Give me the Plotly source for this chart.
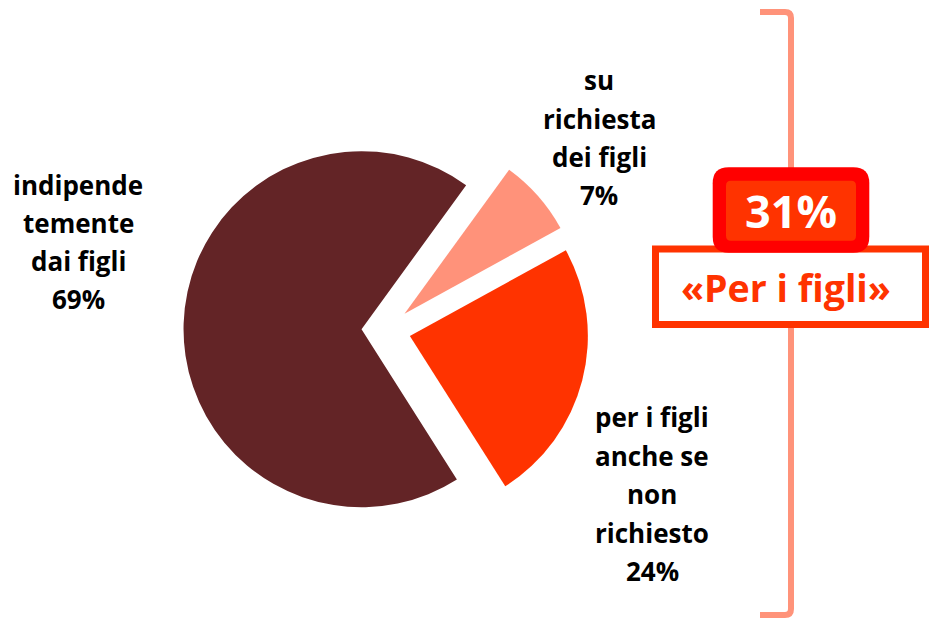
import plotly.graph_objects as go

W, H = 933, 620

# ---- data ----
categories = ["su richiesta dei figli", "per i figli anche se non richiesto", "indipendentemente dai figli"]
values = [7, 24, 69]
label_lines = [
    ["su", "richiesta", "dei figli"],
    ["per i figli", "anche se", "non", "richiesto"],
    ["indipende", "temente", "dai figli"],
]
slice_colors = ["#FF927A", "#FF3300", "#632426"]
total_label = "31%"
group_label = "«Per i figli»"

FONT = "Open Sans"
ZWNJ = "\u200c"

def nolig(s):
    return s.replace("fi", "f" + ZWNJ + "i")

def px(x):
    return x / W

def py(y):
    return 1 - y / H

fig = go.Figure(
    go.Pie(
        labels=categories,
        values=values,
        sort=False,
        direction="clockwise",
        rotation=36,
        pull=[0.138, 0.138, 0.138],
        marker=dict(colors=slice_colors, line=dict(width=0)),
        textinfo="none",
        hoverinfo="label+percent",
        domain=dict(x=[0.1967, 0.6309], y=[0.1411, 0.7945]),
        showlegend=False,
    )
)

annotations = []

# label positions (pixel centre x, baselines)
label_pos = [
    (599, [90, 129, 167, 205]),
    (652, [427, 466, 504, 543, 581]),
    (78, [195, 233, 271, 309]),
]
LS = 26
for lines, v, (cx, bases) in zip(label_lines, values, label_pos):
    texts = lines + [f"{v}%"]
    for t, b in zip(texts, bases):
        annotations.append(dict(
            x=px(cx), y=py(b - 0.388 * LS), xref="paper", yref="paper",
            text=f"<b>{nolig(t)}</b>", showarrow=False, xanchor="center", yanchor="middle",
            font=dict(family=FONT, size=LS, color="black"),
        ))

def rrect(x0, y0, x1, y1, r):
    return (f"M {px(x0 + r)},{py(y0)} L {px(x1 - r)},{py(y0)} Q {px(x1)},{py(y0)} {px(x1)},{py(y0 + r)} "
            f"L {px(x1)},{py(y1 - r)} Q {px(x1)},{py(y1)} {px(x1 - r)},{py(y1)} "
            f"L {px(x0 + r)},{py(y1)} Q {px(x0)},{py(y1)} {px(x0)},{py(y1 - r)} "
            f"L {px(x0)},{py(y0 + r)} Q {px(x0)},{py(y0)} {px(x0 + r)},{py(y0)} Z")

bracket = (f"M {px(760)},{py(12)} L {px(785)},{py(12)} Q {px(791)},{py(12)} {px(791)},{py(18)} "
           f"L {px(791)},{py(609)} Q {px(791)},{py(615)} {px(785)},{py(615)} L {px(760)},{py(615)}")

shapes = [
    dict(type="path", path=bracket, xref="paper", yref="paper",
         line=dict(color="#FF937A", width=6)),
    dict(type="rect", x0=px(655.5), x1=px(925.5), y0=py(249), y1=py(324.5), xref="paper", yref="paper",
         line=dict(color="#FF3300", width=7), fillcolor="white"),
    dict(type="path", path=rrect(712.7, 167.3, 869.3, 252.7, 16), xref="paper", yref="paper",
         line=dict(width=0), fillcolor="#FF0000"),
    dict(type="path", path=rrect(726, 180.7, 856, 240.7, 5), xref="paper", yref="paper",
         line=dict(width=0), fillcolor="#FF3300"),
]

annotations.append(dict(
    x=px(791), y=py(228.3 - 0.388 * 45), xref="paper", yref="paper",
    text=f"<b>{total_label}</b>", showarrow=False, xanchor="center", yanchor="middle",
    font=dict(family=FONT, size=45, color="white"),
))
annotations.append(dict(
    x=px(786), y=py(301.7 - 0.388 * 37.5), xref="paper", yref="paper",
    text=f"<b>{nolig(group_label)}</b>", showarrow=False, xanchor="center", yanchor="middle",
    font=dict(family=FONT, size=37.5, color="#FF3300"),
))

fig.update_layout(
    width=W, height=H,
    margin=dict(l=0, r=0, t=0, b=0),
    paper_bgcolor="white", plot_bgcolor="white",
    shapes=shapes, annotations=annotations,
    font=dict(family=FONT),
)

fig.write_html(
    "out.html",
    config={"displayModeBar": False},
    post_script="document.body.style.margin='0';document.body.style.overflow='hidden';",
)
